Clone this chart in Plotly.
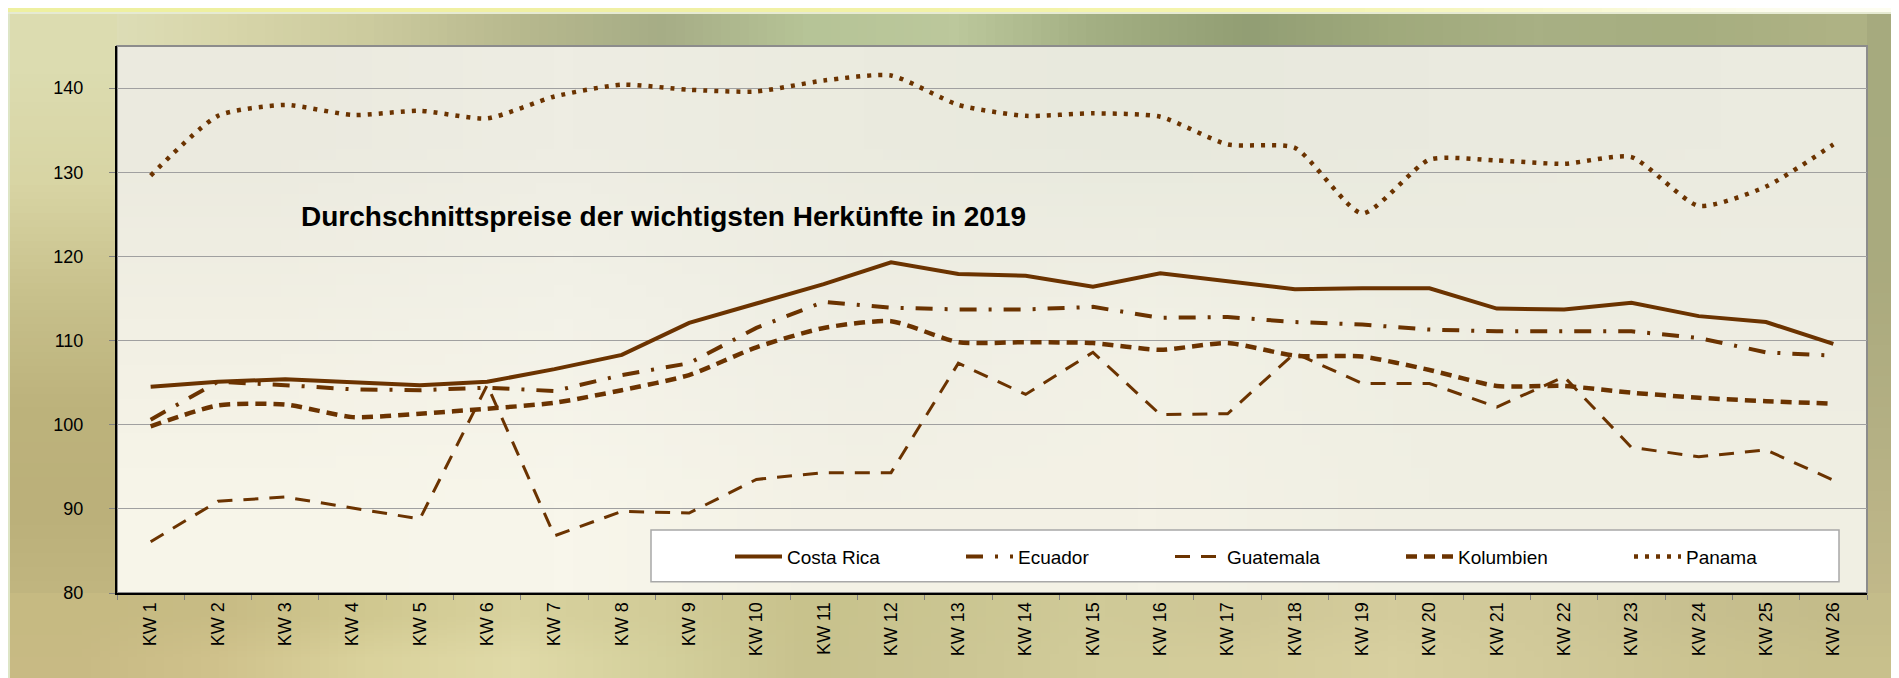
import base64
import struct
import zlib

import plotly.graph_objects as go

weeks = [f"KW {i}" for i in range(1, 27)]

costa_rica = [104.5, 105.1, 105.4, 105.1, 104.7, 105.1, 106.6, 108.3, 112.1, 114.4,
              116.7, 119.3, 117.9, 117.7, 116.4, 118.0, 117.1, 116.1, 116.2, 116.2,
              113.8, 113.7, 114.5, 112.9, 112.2, 109.6]
ecuador = [100.6, 105.1, 104.7, 104.2, 104.1, 104.4, 104.0, 105.9, 107.3, 111.5,
           114.6, 113.9, 113.7, 113.7, 114.0, 112.7, 112.8, 112.2, 111.9, 111.3,
           111.1, 111.1, 111.1, 110.3, 108.6, 108.2]
guatemala = [86.1, 90.9, 91.4, 90.1, 88.8, 104.7, 86.8, 89.7, 89.5, 93.5,
             94.3, 94.3, 107.3, 103.6, 108.6, 101.2, 101.3, 108.5, 104.9, 104.9,
             102.1, 105.7, 97.3, 96.2, 97.0, 93.4]
kolumbien = [99.8, 102.3, 102.4, 100.9, 101.3, 101.9, 102.6, 104.1, 105.9, 109.2,
             111.5, 112.3, 109.8, 109.8, 109.7, 108.9, 109.7, 108.2, 108.1, 106.5,
             104.6, 104.6, 103.8, 103.2, 102.8, 102.5]
panama = [129.6, 136.7, 138.0, 136.8, 137.3, 136.4, 139.0, 140.4, 139.8, 139.6,
          140.9, 141.5, 138.0, 136.7, 137.0, 136.6, 133.3, 132.9, 125.1, 131.5,
          131.4, 131.0, 131.8, 126.0, 128.3, 133.3]

title = "Durchschnittspreise der wichtigsten Herkünfte in 2019"
brown = "#6b3300"
font = "Liberation Sans, Arial, sans-serif"

# page geometry (px); the html body adds an 8px margin, so the figure is 8px smaller
PAGE_W, PAGE_H, BODY = 1899, 678, 8
L, R, T, B = 117, 32, 46, 85          # plot area edges in page px
PW, PH = PAGE_W - L - R, PAGE_H - T - B


def xp(px):
    return (px - L) / PW


def yp(py):
    return (PAGE_H - B - py) / PH


def png_uri(rows):
    h, w = len(rows), len(rows[0])
    raw = b"".join(b"\x00" + b"".join(bytes.fromhex(c.lstrip("#")) for c in row) for row in rows)

    def chunk(tag, data):
        return (struct.pack(">I", len(data)) + tag + data
                + struct.pack(">I", zlib.crc32(tag + data) & 0xFFFFFFFF))

    png = (b"\x89PNG\r\n\x1a\n"
           + chunk(b"IHDR", struct.pack(">IIBBBBB", w, h, 8, 2, 0, 0, 0))
           + chunk(b"IDAT", zlib.compress(raw))
           + chunk(b"IEND", b""))
    return "data:image/png;base64," + base64.b64encode(png).decode()


# soft background colours (photo-like backdrop of the slide)
top_strip = [["#eef0a0", "#f0f0a2", "#f0f0a4", "#f2f2a6", "#f4f4aa", "#f4f4b0", "#f8f8cc", "#fdfdf0"]]
top_band = [["#dfe0ba", "#d8d6aa", "#cccb9e", "#b8b98e", "#a6ad86", "#b6c497",
             "#bcc89c", "#a2ae82", "#929e74", "#a0aa7c", "#a8b084", "#a6ae80", "#aeb284"]]
left_col = [["#dcdcb0"], ["#d8d5a4"], ["#c8c18c"], ["#bdb37c"], ["#bbb07a"], ["#c3b882"]]
right_col = [["#a6aa7e"], ["#aaaa7e"], ["#b4b084"], ["#c2b98a"]]
bottom_band = [
    ["#c6ba82", "#c8bc85", "#d0c890", "#d8d29e", "#d2cc98", "#c8c28c", "#cbc692",
     "#d0ca98", "#cfc796", "#d4cc9c", "#d0c898", "#c8c090", "#c4bc8a"],
    ["#c8ba84", "#d0c28c", "#dad29c", "#e0daa8", "#d4d09c", "#c8c28e", "#ccc694",
     "#d2cc9a", "#d4cc9a", "#d8d0a0", "#d2ca9a", "#ccc492", "#c8c08c"],
]
plot_bg = [
    ["#ebeadf", "#eeede3", "#ebebdf", "#e8e9dd", "#eaeadf", "#ebebe0"],
    ["#f2f0e4", "#f3f2e8", "#efeee4", "#f2f1e6", "#eeeee2", "#eeede2"],
    ["#f7f5e9", "#f8f6eb", "#f3f1e5", "#f4f2e6", "#f0efe3", "#f0efe3"],
]


def bg_image(rows, x0, y0, x1, y1):
    return dict(source=png_uri(rows), xref="paper", yref="paper",
                x=xp(x0), y=yp(y0), sizex=(x1 - x0) / PW, sizey=(y1 - y0) / PH,
                xanchor="left", yanchor="top", sizing="stretch", layer="below")


fig = go.Figure()

series = [
    ("Costa Rica", costa_rica, dict(width=4), "linear"),
    ("Ecuador", ecuador, dict(width=4, dash="17px,12px,3px,12px"), "linear"),
    ("Guatemala", guatemala, dict(width=3, dash="15px,11px"), "linear"),
    ("Kolumbien", kolumbien, dict(width=4.5, dash="11px,7px"), "spline"),
    ("Panama", panama, dict(width=4.5, dash="4px,7px"), "spline"),
]
# text start of each legend entry (page px); each entry gets its own legend box
legend_text_x = [788, 1019, 1228, 1459, 1687]

legends = {}
for i, ((name, vals, line, shape), tx) in enumerate(zip(series, legend_text_x)):
    key = "legend" if i == 0 else f"legend{i + 1}"
    line = dict(color=brown, shape=shape, **line)
    if shape == "spline":
        line["smoothing"] = 0.6
    fig.add_trace(go.Scatter(x=weeks, y=vals, mode="lines", name=name, line=line, legend=key))
    legends[key] = dict(
        orientation="h", x=xp(tx - 58), y=yp(556.7), xanchor="left", yanchor="middle",
        bgcolor="rgba(0,0,0,0)", borderwidth=0, font=dict(size=19), itemwidth=47,
    )

fig.update_layout(
    width=PAGE_W - BODY, height=PAGE_H - BODY,
    margin=dict(l=L - BODY, r=R, t=T - BODY, b=B),
    paper_bgcolor="#c4bd8b",
    plot_bgcolor="#f0efe4",
    font=dict(family=font, color="#000000"),
    showlegend=True,
    **legends,
    images=[
        bg_image(top_strip, 0, 0, PAGE_W, 12),
        bg_image(top_band, 0, 12, PAGE_W, T),
        bg_image(left_col, 0, 12, L, PAGE_H),
        bg_image(right_col, PAGE_W - R, 12, PAGE_W, PAGE_H),
        bg_image(bottom_band, 0, PAGE_H - B, PAGE_W, PAGE_H),
        bg_image(plot_bg, L, T, PAGE_W - R, PAGE_H - B),
    ],
    shapes=[
        # light frame edges of the slide
        dict(type="rect", xref="paper", yref="paper", x0=xp(0), x1=xp(10), y0=yp(PAGE_H), y1=yp(12),
             fillcolor="#dde5c6", line_width=0, layer="below"),
        dict(type="line", xref="paper", yref="paper", x0=xp(0), x1=xp(PAGE_W), y0=yp(13), y1=yp(13),
             line=dict(color="#e6ead2", width=2), layer="below"),
        # plot area frame (top / right in grey)
        dict(type="rect", xref="paper", yref="paper", x0=0, x1=1, y0=0, y1=1,
             line=dict(color="#8c8c8c", width=2), fillcolor="rgba(0,0,0,0)", layer="below"),
        # legend box
        dict(type="rect", xref="paper", yref="paper", x0=xp(651), x1=xp(1839), y0=yp(581.7), y1=yp(530),
             fillcolor="#ffffff", line=dict(color="#a8a8a8", width=1.5), layer="above"),
    ],
    annotations=[
        dict(text=title, xref="paper", yref="paper", x=xp(299), y=yp(216.7),
             xanchor="left", yanchor="middle", showarrow=False,
             font=dict(size=28, weight="bold", color="#000000", family=font)),
    ],
)

fig.update_xaxes(
    type="category", range=[-0.5, 25.5], tickangle=-90, tickson="boundaries",
    ticks="outside", ticklen=5, tickcolor="#808080",
    showline=True, linecolor="#000000", linewidth=2, showgrid=False,
    tickfont=dict(size=18, color="#000000"),
)
fig.update_yaxes(
    range=[80, 145], tick0=80, dtick=10, ticks="outside", ticklen=6, tickcolor="#808080",
    showline=True, linecolor="#000000", linewidth=2,
    showgrid=True, gridcolor="#a0a0a0", gridwidth=1, zeroline=False,
    tickfont=dict(size=18, color="#000000"), ticklabelstandoff=22,
)

fig.write_html("out.html")
